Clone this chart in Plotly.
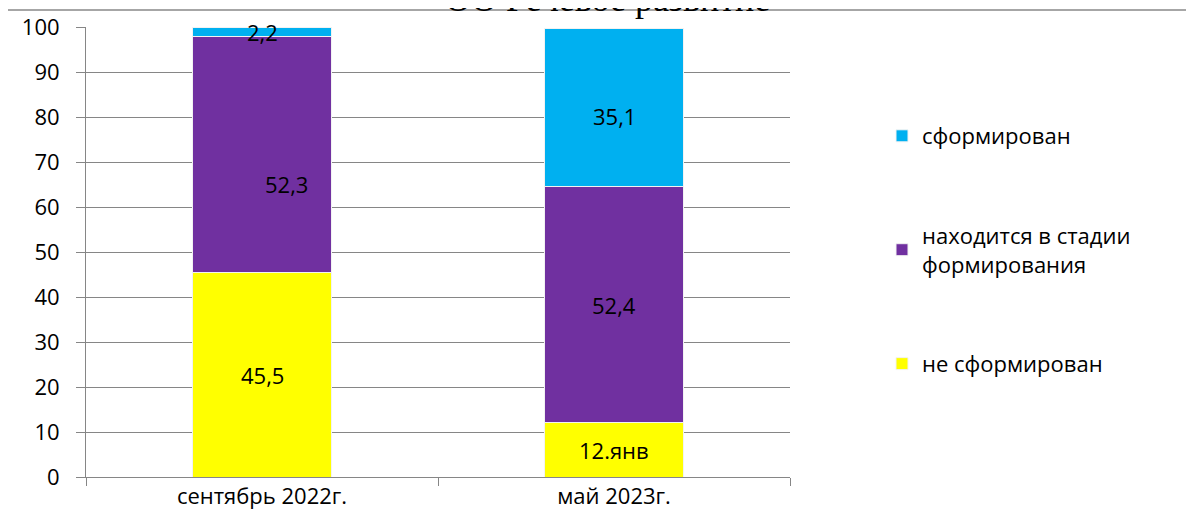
import plotly.graph_objects as go

categories = ["сентябрь 2022г.", "май 2023г."]
series_names = ["не сформирован", "находится в стадии<br>формирования", "сформирован"]
not_formed = [45.5, 12.1]
forming = [52.3, 52.4]
formed = [2.2, 35.1]
label_not_formed = ["45,5", "12.янв"]
label_forming = ["52,3", "52,4"]
label_formed = ["2,2", "35,1"]
y_ticks = [0, 10, 20, 30, 40, 50, 60, 70, 80, 90, 100]

colors = ["#FFFF00", "#7030A0", "#00B0F0"]
FONT = "Open Sans"
FS = 22

# page has an 8px body margin; target pixel coords are screenshot coords
OFF = 8
L, R, T, B = 86, 790, 27, 477  # plot area in screenshot pixels
W, H = 1194 - OFF, 529 - OFF


def px(xpix):
    return (xpix - L) / (R - L)


def py(ypix):
    return (B - ypix) / (B - T)


fig = go.Figure()
for rank, (name, vals, col) in zip([3, 2, 1], zip(series_names, [not_formed, forming, formed], colors)):
    fig.add_trace(go.Bar(
        x=categories, y=vals, name=name, legendgroup=name, legendrank=rank,
        marker=dict(color=col, line=dict(color="#F2F2F2", width=1)),
        width=0.395,
    ))

annotations = []
label_sets = [label_not_formed, label_forming, label_formed]
value_sets = [not_formed, forming, formed]
shifts = {(1, 0): (24, -29), (2, 1): (0, -8)}
for i, cat in enumerate(categories):
    base = 0
    for s in range(3):
        v = value_sets[s][i]
        xs, ys = shifts.get((s, i), (0, 0))
        annotations.append(dict(
            x=cat, y=base + v / 2, xref="x", yref="y", text=label_sets[s][i],
            showarrow=False, font=dict(family=FONT, size=FS, color="black"),
            xshift=xs, yshift=ys,
        ))
        base += v

annotations.append(dict(
    x=px(607), y=py(21), xref="paper", yref="paper",
    text="ОО Речевое развитие", showarrow=False, yanchor="bottom", xanchor="center",
    font=dict(family="Liberation Serif", size=36, color="black"),
))

fig.update_layout(
    width=W, height=H,
    margin=dict(l=L - OFF, r=W - (R - OFF), t=T - OFF, b=H - (B - OFF), autoexpand=False),
    paper_bgcolor="white", plot_bgcolor="white",
    barmode="stack",
    font=dict(family=FONT, size=FS, color="black"),
    showlegend=True,
    legend=dict(
        x=px(882), y=py(115), xanchor="left", yanchor="top",
        traceorder="grouped", tracegroupgap=68,
        font=dict(family=FONT, size=FS, color="black"),
        itemwidth=30,
    ),
    annotations=annotations,
    shapes=[
        dict(type="line", xref="paper", yref="paper",
             x0=px(7), x1=px(1200), y0=py(10), y1=py(10),
             line=dict(color="#888888", width=1.5)),
        dict(type="line", xref="paper", yref="paper",
             x0=px(7), x1=px(7), y0=py(10), y1=py(540),
             line=dict(color="#888888", width=1.5)),
    ],
)
fig.update_yaxes(
    range=[0, 100], tickvals=y_ticks, showgrid=True, gridcolor="#868686", gridwidth=1,
    showline=True, linecolor="#868686", linewidth=1, ticks="outside", ticklen=9,
    tickcolor="#868686", ticklabelstandoff=12, zeroline=False, automargin=False,
    tickfont=dict(family=FONT, size=FS),
)
fig.update_xaxes(
    showline=True, linecolor="#868686", linewidth=1, ticks="outside", ticklen=8,
    tickcolor="#868686", tickson="boundaries", showgrid=False, automargin=False,
    tickfont=dict(family=FONT, size=FS),
)

fig.write_html("out.html")
